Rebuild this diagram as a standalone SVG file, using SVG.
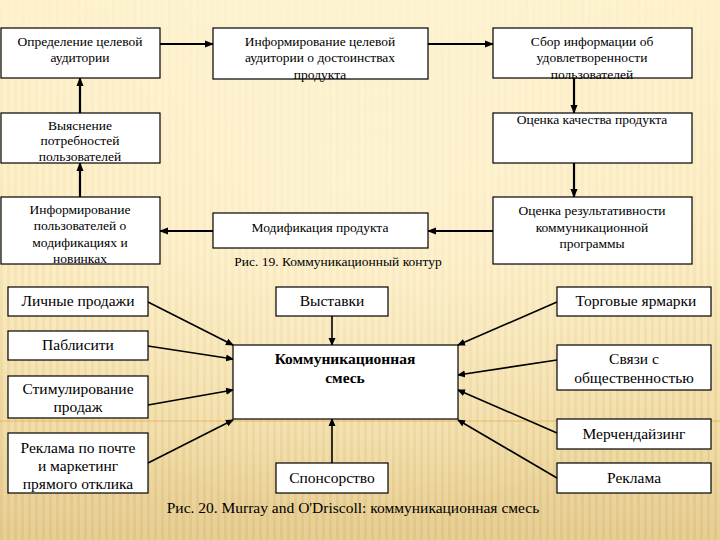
<svg xmlns="http://www.w3.org/2000/svg" width="720" height="540" viewBox="0 0 720 540">
<defs>
<linearGradient id="bg" x1="0" y1="0" x2="0" y2="1">
<stop offset="0" stop-color="#FEF2CE"/>
<stop offset="0.45" stop-color="#FCEDC3"/>
<stop offset="0.8" stop-color="#F1DDA8"/>
<stop offset="1" stop-color="#E6CE94"/>
</linearGradient>
<radialGradient id="glow" cx="0.5" cy="0.35" r="0.6">
<stop offset="0" stop-color="#FFF6DA" stop-opacity="0.6"/>
<stop offset="1" stop-color="#FFF6DA" stop-opacity="0"/>
</radialGradient>
<pattern id="stripes" width="7" height="10" patternUnits="userSpaceOnUse">
<rect x="0" y="0" width="3" height="10" fill="#C8963E"/>
</pattern>
<linearGradient id="mg" x1="0" y1="0" x2="0" y2="1">
<stop offset="0" stop-color="#fff" stop-opacity="0.02"/>
<stop offset="0.4" stop-color="#fff" stop-opacity="0.08"/>
<stop offset="1" stop-color="#fff" stop-opacity="0.16"/>
</linearGradient>
<mask id="sm"><rect width="720" height="540" fill="url(#mg)"/></mask>
<marker id="ah" markerWidth="8" markerHeight="8" refX="7" refY="4" orient="auto" markerUnits="userSpaceOnUse">
<path d="M0,0.5 L8,4 L0,7.5 z" fill="#000"/>
</marker>
<marker id="ah2" markerWidth="9" markerHeight="9" refX="8" refY="4.5" orient="auto" markerUnits="userSpaceOnUse">
<path d="M0,1 L9,4.5 L0,8 z" fill="#000"/>
</marker>
</defs>
<style>
.box{fill:#fff;stroke:#000;stroke-width:1.2}
text{font-family:'Liberation Serif','Times New Roman',Tinos,'Noto Serif','DejaVu Serif',FreeSerif,Georgia,serif;fill:#000;text-anchor:middle}
.t{font-size:13.5px}
.b{font-size:15.5px}
.bold{font-weight:bold}
.c1{fill:none;stroke:#000;stroke-width:2.2}
.c2{fill:none;stroke:#000;stroke-width:1.6}
</style>
<rect width="720" height="540" fill="url(#bg)"/>
<rect width="720" height="540" fill="url(#stripes)" mask="url(#sm)"/>
<rect width="720" height="540" fill="url(#glow)"/>
<line x1="0" y1="421" x2="720" y2="421" stroke="#E3A64A" stroke-width="1" opacity="0.7"/>

<g id="connectors">
<line class="c1" x1="160" y1="44" x2="213" y2="44" marker-end="url(#ah2)"/>
<line class="c1" x1="428" y1="44" x2="493" y2="44" marker-end="url(#ah2)"/>
<line class="c1" x1="80" y1="113" x2="80" y2="78" marker-end="url(#ah2)"/>
<line class="c1" x1="80" y1="197" x2="80" y2="163" marker-end="url(#ah2)"/>
<line class="c1" x1="574" y1="78" x2="574" y2="113" marker-end="url(#ah2)"/>
<line class="c1" x1="574" y1="163" x2="574" y2="197" marker-end="url(#ah2)"/>
<line class="c1" x1="493" y1="231" x2="428" y2="231" marker-end="url(#ah2)"/>
<line class="c1" x1="213" y1="231" x2="160" y2="231" marker-end="url(#ah2)"/>

<line class="c2" x1="148" y1="302" x2="233" y2="345" marker-end="url(#ah)"/>
<line class="c2" x1="148" y1="346" x2="233" y2="359" marker-end="url(#ah)"/>
<line class="c2" x1="148" y1="405" x2="233" y2="390" marker-end="url(#ah)"/>
<line class="c2" x1="148" y1="463" x2="233" y2="420" marker-end="url(#ah)"/>
<line class="c2" x1="332" y1="316" x2="332" y2="345" marker-end="url(#ah)"/>
<line class="c2" x1="332" y1="463" x2="332" y2="419" marker-end="url(#ah)"/>
<line class="c2" x1="557" y1="302" x2="458" y2="345" marker-end="url(#ah)"/>
<line class="c2" x1="557" y1="360" x2="458" y2="375" marker-end="url(#ah)"/>
<line class="c2" x1="557" y1="433" x2="458" y2="390" marker-end="url(#ah)"/>
<line class="c2" x1="557" y1="478" x2="458" y2="420" marker-end="url(#ah)"/>
</g>

<g id="n1"><rect class="box" x="1" y="28" width="159" height="50"/>
<text class="t" x="80" y="46">Определение целевой</text><text class="t" x="80" y="62">аудитории</text></g>
<g id="n2"><rect class="box" x="213" y="28" width="215" height="51"/>
<text class="t" x="320" y="46">Информирование целевой</text><text class="t" x="320" y="62">аудитории о достоинствах</text><text class="t" x="320" y="79">продукта</text></g>
<g id="n3"><rect class="box" x="493" y="28" width="199" height="50"/>
<text class="t" x="592" y="46">Сбор информации об</text><text class="t" x="592" y="62">удовлетворенности</text><text class="t" x="592" y="79">пользователей</text></g>
<g id="n4"><rect class="box" x="1" y="113" width="159" height="50"/>
<text class="t" x="80" y="130">Выяснение</text><text class="t" x="80" y="145">потребностей</text><text class="t" x="80" y="161">пользователей</text></g>
<g id="n5"><rect class="box" x="493" y="113" width="199" height="50"/>
<text class="t" x="592" y="124">Оценка качества продукта</text></g>
<g id="n6"><rect class="box" x="493" y="197" width="199" height="67"/>
<text class="t" x="592" y="215">Оценка результативности</text><text class="t" x="592" y="232">коммуникационной</text><text class="t" x="592" y="248">программы</text></g>
<g id="n7"><rect class="box" x="1" y="197" width="159" height="67"/>
<text class="t" x="80" y="214">Информирование</text><text class="t" x="80" y="230">пользователей о</text><text class="t" x="80" y="247">модификациях и</text><text class="t" x="80" y="263">новинках</text></g>
<g id="n8"><rect class="box" x="213" y="213" width="215" height="35"/>
<text class="t" x="320" y="232">Модификация продукта</text></g>
<text class="t" x="338" y="266">Рис. 19. Коммуникационный контур</text>

<g id="m1"><rect class="box" x="8" y="287" width="140" height="29"/><text class="b" x="78" y="306">Личные продажи</text></g>
<g id="m2"><rect class="box" x="8" y="331" width="140" height="29"/><text class="b" x="78" y="350">Паблисити</text></g>
<g id="m3"><rect class="box" x="8" y="376" width="140" height="42"/><text class="b" x="78" y="394">Стимулирование</text><text class="b" x="78" y="412">продаж</text></g>
<g id="m4"><rect class="box" x="8" y="433" width="140" height="60"/><text class="b" x="78" y="453">Реклама по почте</text><text class="b" x="78" y="471">и маркетинг</text><text class="b" x="78" y="489">прямого отклика</text></g>
<g id="mc"><rect class="box" x="233" y="345" width="225" height="74"/><text class="b bold" x="345" y="364">Коммуникационная</text><text class="b bold" x="345" y="383">смесь</text></g>
<g id="m5"><rect class="box" x="276" y="287" width="112" height="29"/><text class="b" x="332" y="306">Выставки</text></g>
<g id="m6"><rect class="box" x="276" y="463" width="112" height="30"/><text class="b" x="332" y="483">Спонсорство</text></g>
<g id="m7"><rect class="box" x="557" y="287" width="154" height="29"/><text class="b" x="636" y="306">Торговые ярмарки</text></g>
<g id="m8"><rect class="box" x="557" y="345" width="154" height="45"/><text class="b" x="634" y="364">Связи с</text><text class="b" x="634" y="383">общественностью</text></g>
<g id="m9"><rect class="box" x="557" y="419" width="154" height="30"/><text class="b" x="634" y="439">Мерчендайзинг</text></g>
<g id="m10"><rect class="box" x="557" y="463" width="154" height="30"/><text class="b" x="634" y="483">Реклама</text></g>
<text class="b" x="353" y="513">Рис. 20. Murray and O'Driscoll: коммуникационная смесь</text>
</svg>
